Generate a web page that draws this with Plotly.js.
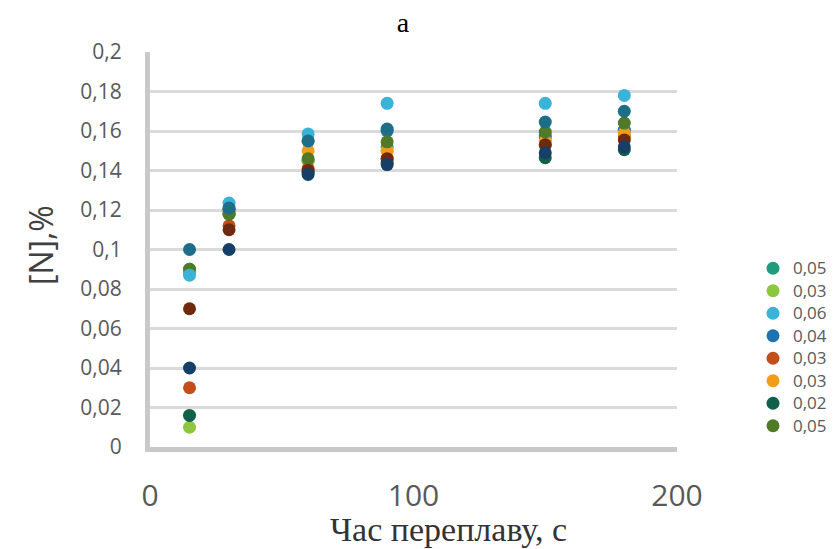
<!DOCTYPE html>
<html><head><meta charset="utf-8">
<script src="https://cdn.plot.ly/plotly-3.0.1.min.js"></script>
<style>html,body{margin:0;padding:0;background:#fff;}#chart{width:840px;height:549px;}</style>
</head><body><div id="chart"></div>
<script>
const times = [15, 30, 60, 90, 150, 180];
const legendNames = ['0,05','0,03','0,06','0,04','0,03','0,03','0,02','0,05','','',''];
const s1 = [0.090, 0.120, 0.145, 0.152, 0.158, 0.160];
const s2 = [0.010, 0.118, 0.145, 0.150, 0.155, 0.158];
const s3 = [0.087, 0.1235, 0.1585, 0.174, 0.174, 0.178];
const s4 = [0.088, 0.120, 0.155, 0.160, 0.157, 0.1605];
const s5 = [0.030, 0.112, 0.141, 0.146, 0.153, 0.157];
const s6 = [0.089, 0.119, 0.150, 0.150, 0.155, 0.159];
const s7 = [0.016, 0.118, 0.139, 0.144, 0.1465, 0.1505];
const s8 = [0.090, 0.118, 0.146, 0.1545, 0.1595, 0.164];
const s9 = [0.100, 0.121, 0.155, 0.161, 0.1645, 0.170];
const s10 = [0.070, 0.110, 0.140, 0.146, 0.153, 0.1555];
const s11 = [0.040, 0.100, 0.138, 0.143, 0.149, 0.152];
const series = [s1,s2,s3,s4,s5,s6,s7,s8,s9,s10,s11];
const colors = ['#1E9C7C','#8DC63F','#3AB3D9','#1F72B0','#C24E1C','#F39C1B','#11604A','#4F7B28','#1E6E88','#6E2A0E','#153F66'];
const order = [0,1,3,4,5,6,7,2,8,9,10];
const traces = order.map(i => ({
  type:'scatter', mode:'markers', x: times, y: series[i],
  name: '<span style="font-size:17px">' + legendNames[i] + '</span>',
  showlegend: i < 8, legendrank: i+1,
  marker:{color: colors[i], size: 13}
}));
const layout = {
  width:840, height:549,
  margin:{l:150, r:163, t:52, b:102},
  paper_bgcolor:'#fff', plot_bgcolor:'#fff',
  separators:', ',
  font:{family:'Open Sans, sans-serif', color:'#595959'},
  title:{text:'a', x:403/840, xref:'container', xanchor:'center', y:1-22/549, yref:'container', yanchor:'middle',
         font:{family:'Liberation Serif, serif', size:28, color:'#000'}},
  xaxis:{range:[0,200], tickvals:[0,100,200], ticktext:['0','100','200'], showgrid:false, zeroline:false,
         showline:true, linecolor:'#C9C9C9', linewidth:5, ticks:'', ticklabelstandoff:18,
         tickfont:{size:30, color:'#595959'}},
  yaxis:{range:[0,0.2], dtick:0.02, showgrid:true, gridcolor:'#DADADA', gridwidth:3,
         zeroline:false, showline:true, linecolor:'#C9C9C9', linewidth:5, ticks:'', ticklabelstandoff:19,
         tickfont:{size:21, color:'#595959'}},
  legend:{xref:'container', yref:'container', x:753/840, xanchor:'left', y:1-252/549, yanchor:'top',
          font:{size:15, color:'#595959'}, bgcolor:'rgba(0,0,0,0)', tracegroupgap:0, itemwidth:30},
  annotations:[
    {text:'Час переплаву, с', xref:'paper', yref:'paper', x:(448-150)/527, y:(447-529)/395, xanchor:'center', yanchor:'middle',
     showarrow:false, font:{family:'Liberation Serif, serif', size:34, color:'#333333'}},
    {text:'[N],%', xref:'paper', yref:'paper', x:(40-150)/527, y:(447-245)/395, xanchor:'center', yanchor:'middle',
     textangle:-90, showarrow:false, font:{family:'Open Sans, sans-serif', size:32, color:'#404040'}}
  ]
};
Plotly.newPlot('chart', traces, layout, {displayModeBar:false});
</script></body></html>
